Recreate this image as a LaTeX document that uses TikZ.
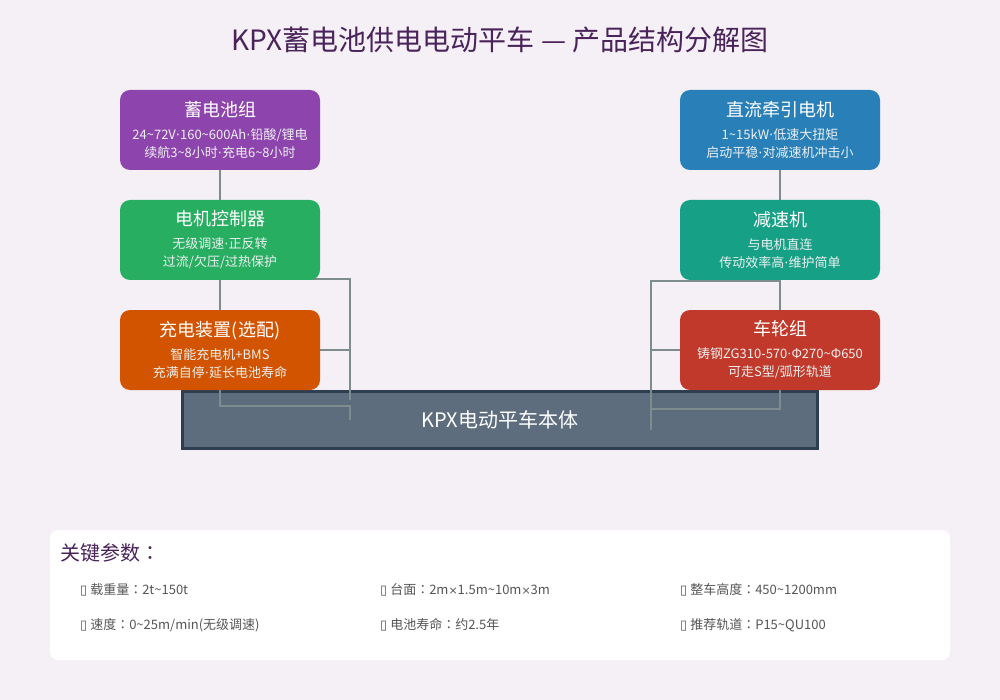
\documentclass[tikz,border=0pt]{standalone}
\usepackage{fontspec}
\setmainfont{Noto Sans CJK SC}
\newfontfamily\symfont{DejaVu Sans}
\newfontfamily\tcfont{Noto Sans CJK TC}
\usepackage{xcolor}
\definecolor{pagebg}{HTML}{F4F0F6}
\definecolor{ttl}{HTML}{4A235A}
\definecolor{cbat}{HTML}{8E44AD}
\definecolor{cctl}{HTML}{27AE60}
\definecolor{cchg}{HTML}{D35400}
\definecolor{cmot}{HTML}{2980B9}
\definecolor{cred}{HTML}{16A085}
\definecolor{cwhl}{HTML}{C0392B}
\definecolor{cbody}{HTML}{5D6D7E}
\definecolor{cedge}{HTML}{2C3E50}
\definecolor{cline}{HTML}{7F8C8D}
\definecolor{csub}{HTML}{ECF0F1}
\definecolor{ctext}{HTML}{555555}
\usetikzlibrary{positioning,calc}
\pgfdeclarelayer{back}
\pgfdeclarelayer{lines}
\pgfsetlayers{back,lines,main}
\newcommand{\bt}[1]{{\fontsize{18}{18}\selectfont\color{white}#1}\\[5pt]}
\newcommand{\bs}[1]{{\color{csub}#1}}
\newcommand{\tl}{\textasciitilde}
\newcommand{\md}{{\symfont ·}}
\newcommand{\cl}{{\tcfont ：}}
\newcommand{\tm}{{\symfont\fontsize{11}{11}\selectfont ×}}
\newcommand{\bul}{{\symfont\fontsize{13}{13}\selectfont ▯}\ }
\tikzset{
  part/.style={rounded corners=10pt,minimum width=200pt,minimum height=80pt,inner sep=0pt,align=center,
    font=\fontsize{13}{18}\selectfont,text=white},
  conn/.style={draw=cline,line width=2pt},
  item/.style={anchor=west,inner sep=0pt,font=\fontsize{13}{16}\selectfont,text=ctext},
}
\begin{document}
\begin{tikzpicture}[x=1pt,y=-1pt]
\begin{pgfonlayer}{back}
\fill[pagebg] (0,0) rectangle (1000,700);
\node[draw=cedge,line width=3pt,fill=cbody,minimum width=635pt,minimum height=57pt,
  font=\fontsize{20}{24}\selectfont,text=white] (body) at (500,420) {KPX电动平车本体};
\end{pgfonlayer}
\node[font=\fontsize{28}{30}\selectfont,text=ttl] (title) at (500,40) {KPX蓄电池供电电动平车 — 产品结构分解图};
% left column
\node[part,fill=cbat] (bat) at (220,130) {\bt{蓄电池组}\bs{24\tl{}72V\md{}160\tl{}600Ah\md{}铅酸/锂电}\\\bs{续航3\tl{}8小时\md{}充电6\tl{}8小时}};
\node[part,fill=cctl] (ctl) at (220,240) {\bt{电机控制器}\bs{无级调速\md{}正反转}\\\bs{过流/欠压/过热保护}};
\node[part,fill=cchg] (chg) at (220,350) {\bt{充电装置(选配)}\bs{智能充电机+BMS}\\\bs{充满自停\md{}延长电池寿命}};
% right column
\node[part,fill=cmot] (mot) at (780,130) {\bt{直流牵引电机}\bs{1\tl{}15kW\md{}低速大扭矩}\\\bs{启动平稳\md{}对减速机冲击小}};
\node[part,fill=cred] (red) at (780,240) {\bt{减速机}\bs{与电机直连}\\\bs{传动效率高\md{}维护简单}};
\node[part,fill=cwhl] (whl) at (780,350) {\bt{车轮组}\bs{铸钢ZG310-570\md{}Φ270\tl{}Φ650}\\\bs{可走S型/弧形轨道}};
\coordinate (la) at (350,400);
\coordinate (lb) at (350,420);
\coordinate (ra) at (651,430);
\begin{pgfonlayer}{lines}
\draw[conn] (bat) -- (ctl);
\draw[conn] (ctl) -- (chg);
\draw[conn] ([yshift=1pt]ctl.south) -| (la);
\draw[conn] (chg) -- (chg -| la);
\draw[conn] (chg.south) -- ++(0,16) -| (lb);
\draw[conn] (mot) -- (red);
\draw[conn] (red) -- (whl);
\draw[conn] ([yshift=-1pt]red.south) -| (ra);
\draw[conn] (whl) -- (whl -| ra);
\draw[conn] (whl.south) -- ++(0,19) -| (ra);
\end{pgfonlayer}
% parameters
\node[fill=white,rounded corners=8pt,minimum width=900pt,minimum height=130pt,inner sep=0pt] (panel) at (500,595) {};
\node[anchor=west,inner sep=0pt,font=\fontsize{20}{24}\selectfont,text=ttl] (ptitle) at (60,553) {关键参数\cl};
\node[item] (p1) at (80,590) {\bul 载重量\cl 2t\tl{}150t};
\node[item] (p2) at (380,590) {\bul 台面\cl 2m\tm{}1.5m\tl{}10m\tm{}3m};
\node[item] (p3) at (680,590) {\bul 整车高度\cl 450\tl{}1200mm};
\node[item] (p4) at (80,625) {\bul 速度\cl 0\tl{}25m/min(无级调速)};
\node[item] (p5) at (380,625) {\bul 电池寿命\cl 约2.5年};
\node[item] (p6) at (680,625) {\bul 推荐轨道\cl P15\tl{}QU100};
\end{tikzpicture}
\end{document}
